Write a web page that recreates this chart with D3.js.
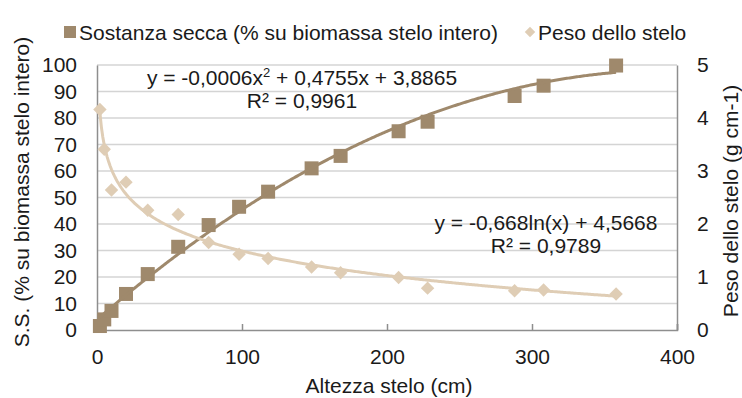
<!DOCTYPE html>
<html>
<head>
<meta charset="utf-8">
<script src="https://cdn.jsdelivr.net/npm/d3@7/dist/d3.min.js"></script>
<style>
  html, body { margin: 0; padding: 0; background: #fff; }
  svg { display: block; font-family: "Liberation Sans", Arial, sans-serif; }
</style>
</head>
<body>
<svg id="chart" width="742" height="398"></svg>
<script>
// Stem height (cm) for each sample
const altezza = [2, 5, 10, 20, 35, 56, 77, 98, 118, 148, 168, 208, 228, 288, 308, 358];
// Dry matter (% of whole stem biomass), left axis
const sostanzaSecca = [1.5, 4, 7.2, 13.6, 21.1, 31.4, 39.6, 46.5, 52.2, 61, 65.7, 75, 78.6, 88.3, 92.2, 99.8];
// Stem weight (g cm-1), right axis
const pesoStelo = [4.16, 3.41, 2.64, 2.79, 2.26, 2.18, 1.65, 1.43, 1.35, 1.19, 1.08, 0.99, 0.79, 0.74, 0.755, 0.68];

// Trendline coefficients
const quadCoef = { a: -0.0006, b: 0.4755, c: 3.8865 };
const logCoef = { a: -0.668, b: 4.5668 };

const xTicks = [0, 100, 200, 300, 400];
const yLeftTicks = [0, 10, 20, 30, 40, 50, 60, 70, 80, 90, 100];
const yRightTicks = [0, 1, 2, 3, 4, 5];

const colSquare = "#9f896c";
const colDiamond = "#dfcdb5";
const colGrid = "#d4d4d4";
const colAxis = "#8e8e8e";
const colText = "#1a1a1a";
const FS = 21;

const M = { left: 97, right: 677, top: 65, bottom: 330 };
const svg = d3.select("#chart");

const x = d3.scaleLinear().domain([0, 400]).range([M.left, M.right]);
const yL = d3.scaleLinear().domain([0, 100]).range([M.bottom, M.top]);
const yR = d3.scaleLinear().domain([0, 5]).range([M.bottom, M.top]);

// horizontal gridlines
svg.append("g").selectAll("line").data(yLeftTicks.slice(1)).join("line")
  .attr("x1", M.left).attr("x2", M.right)
  .attr("y1", d => yL(d)).attr("y2", d => yL(d))
  .attr("stroke", colGrid).attr("stroke-width", 1.5);

function styleAxis(g) {
  g.select(".domain").attr("stroke", colAxis).attr("stroke-width", 1.5);
  g.selectAll(".tick line").attr("stroke", colAxis).attr("stroke-width", 1.5);
  g.selectAll("text").attr("font-size", FS).attr("fill", colText)
    .attr("font-family", "Liberation Sans, Arial, sans-serif");
}

// x axis with inward ticks
svg.append("g").attr("transform", `translate(0,${M.bottom})`)
  .call(d3.axisBottom(x).tickValues(xTicks).tickSize(-6).tickPadding(19))
  .call(styleAxis);

// left axis
svg.append("g").attr("transform", `translate(${M.left},0)`)
  .call(d3.axisLeft(yL).tickValues(yLeftTicks).tickSize(0).tickPadding(20))
  .call(styleAxis);

// right axis
svg.append("g").attr("transform", `translate(${M.right},0)`)
  .call(d3.axisRight(yR).tickValues(yRightTicks).tickFormat(d3.format("d")).tickSize(0).tickPadding(20))
  .call(styleAxis);

// trendline paths
const xs = d3.range(altezza[0], altezza[altezza.length - 1] + 0.01, 1);
const quadLine = d3.line()
  .x(d => x(d))
  .y(d => yL(quadCoef.a * d * d + quadCoef.b * d + quadCoef.c));
const logLine = d3.line()
  .x(d => x(d))
  .y(d => yR(logCoef.a * Math.log(d) + logCoef.b));

// dry matter series
svg.append("g").selectAll("rect").data(altezza).join("rect")
  .attr("x", (d) => x(d) - 7)
  .attr("y", (d, i) => yL(sostanzaSecca[i]) - 7)
  .attr("width", 14).attr("height", 14)
  .attr("fill", colSquare);

svg.append("path").datum(xs).attr("d", quadLine)
  .attr("fill", "none").attr("stroke", colSquare).attr("stroke-width", 3);

// stem weight series
const diamond = d3.symbol().type(d3.symbolDiamond2).size(115);
svg.append("g").selectAll("path").data(altezza).join("path")
  .attr("d", diamond)
  .attr("transform", (d, i) => `translate(${x(d)},${yR(pesoStelo[i])})`)
  .attr("fill", colDiamond);

svg.append("path").datum(xs).attr("d", logLine)
  .attr("fill", "none").attr("stroke", colDiamond).attr("stroke-width", 3);

// equation labels
const eq1 = svg.append("text").attr("x", 302).attr("y", 85)
  .attr("text-anchor", "middle").attr("font-size", FS).attr("fill", colText);
eq1.append("tspan").text("y = -0,0006x");
eq1.append("tspan").attr("dy", -8).attr("font-size", 13).text("2");
eq1.append("tspan").attr("dy", 8).text(" + 0,4755x + 3,8865");
svg.append("text").attr("x", 302).attr("y", 108).attr("text-anchor", "middle")
  .attr("font-size", FS).attr("fill", colText).text("R² = 0,9961");

svg.append("text").attr("x", 546).attr("y", 230).attr("text-anchor", "middle")
  .attr("font-size", FS).attr("fill", colText).text("y = -0,668ln(x) + 4,5668");
svg.append("text").attr("x", 546).attr("y", 253).attr("text-anchor", "middle")
  .attr("font-size", FS).attr("fill", colText).text("R² = 0,9789");

// axis titles
svg.append("text").attr("x", 389).attr("y", 393).attr("text-anchor", "middle")
  .attr("font-size", FS).attr("fill", colText).text("Altezza stelo (cm)");
svg.append("text").attr("transform", "translate(29,192) rotate(-90)")
  .attr("text-anchor", "middle").attr("font-size", FS).attr("fill", colText)
  .text("S.S. (% su biomassa stelo intero)");
svg.append("text").attr("transform", "translate(738,201) rotate(-90)")
  .attr("text-anchor", "middle").attr("font-size", FS).attr("fill", colText)
  .text("Peso dello stelo (g cm-1)");

// legend
const legend = svg.append("g");
legend.append("rect").attr("x", 64).attr("y", 26).attr("width", 12).attr("height", 12)
  .attr("fill", colSquare);
legend.append("text").attr("x", 79).attr("y", 40).attr("font-size", FS)
  .attr("fill", colText).text("Sostanza secca (% su biomassa stelo intero)");
legend.append("path").attr("d", d3.symbol().type(d3.symbolDiamond2).size(70))
  .attr("transform", "translate(530,32)").attr("fill", colDiamond);
legend.append("text").attr("x", 538).attr("y", 40).attr("font-size", FS)
  .attr("fill", colText).text("Peso dello stelo");
</script>
</body>
</html>
